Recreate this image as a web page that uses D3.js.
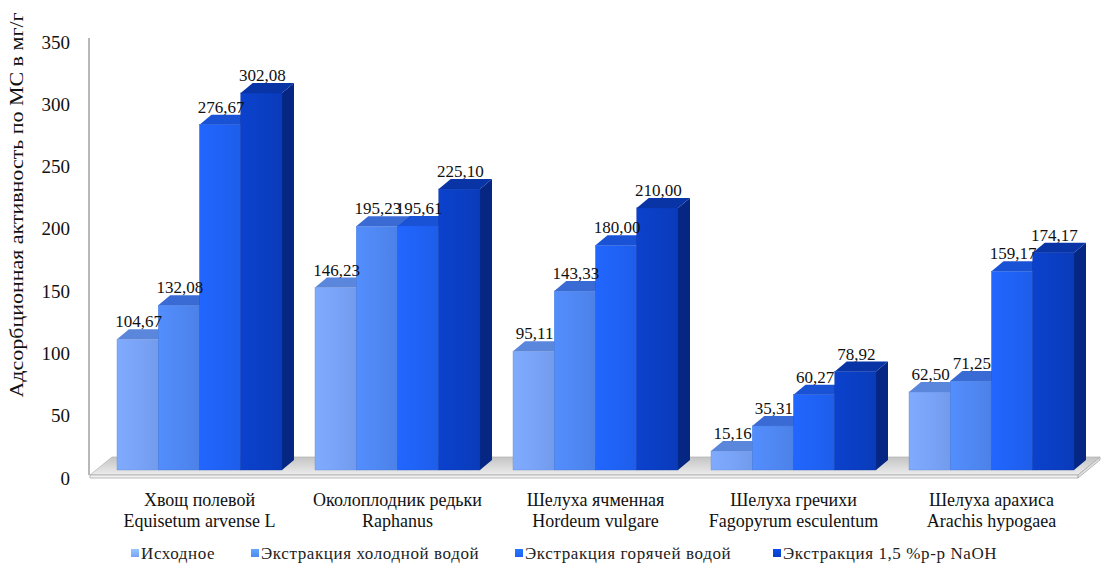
<!DOCTYPE html>
<html>
<head>
<meta charset="utf-8">
<script src="https://cdn.jsdelivr.net/npm/d3@7"></script>
<style>
  html, body { margin: 0; padding: 0; background: #fff; }
</style>
</head>
<body>
<svg id="chart" width="1101" height="570"></svg>
<script>
// Sorbent materials (two-line labels: Russian name / Latin name)
const categories = [
  ["Хвощ полевой", "Equisetum arvense L"],
  ["Околоплодник редьки", "Raphanus"],
  ["Шелуха ячменная", "Hordeum vulgare"],
  ["Шелуха гречихи", "Fagopyrum esculentum"],
  ["Шелуха арахиса", "Arachis hypogaea"]
];
const seriesNames = [
  "Исходное",
  "Экстракция холодной водой",
  "Экстракция горячей водой",
  "Экстракция 1,5 %р-р NaOH"
];
// Adsorption activity for methylene blue, mg/g
const initial   = [104.67, 146.23, 95.11, 15.16, 62.50];
const coldWater = [132.08, 195.23, 143.33, 35.31, 71.25];
const hotWater  = [276.67, 195.61, 180.00, 60.27, 159.17];
const naoh      = [302.08, 225.10, 210.00, 78.92, 174.17];
const yTicks = [0, 50, 100, 150, 200, 250, 300, 350];
const yTitle = "Адсорбционная активность по МС в мг/г";

const seriesValues = [initial, coldWater, hotWater, naoh];
const frontColors = ["#78a2f6", "#4f87f1", "#1f61f3", "#0a3ec2"];
const topColors   = ["#5a86dc", "#3a6ad4", "#1a52d6", "#0834a6"];
const sideColors  = ["#4a72c4", "#2f5bbd", "#1245bd", "#052783"];
const FONT = "'Liberation Serif', 'Times New Roman', Tinos, 'DejaVu Serif', serif";

const svg = d3.select("#chart").attr("font-family", FONT);
const defs = svg.append("defs");

// Geometry of the 3D plot
const depthX = 12, depthY = -10;
const x0 = d3.scaleBand()
  .domain(categories.map((c, i) => i))
  .range([100.5, 1090.5])
  .paddingInner(0.1667)
  .paddingOuter(0.0833);
const x1 = d3.scaleBand()
  .domain(seriesNames.map((s, i) => i))
  .range([0, x0.bandwidth()]);
const y = d3.scaleLinear().domain([0, 350]).range([470, 470 - 350 * 1.248]);
const yLabel = d3.scaleLinear().domain([0, 350]).range([478, 478 - 350 * 1.246]);

// Gradients for bar faces
frontColors.forEach((c, i) => {
  const g = defs.append("linearGradient").attr("id", "front" + i)
    .attr("x1", 0).attr("x2", 1).attr("y1", 0).attr("y2", 0);
  g.append("stop").attr("offset", "0%").attr("stop-color", d3.color(c).brighter(0.15));
  g.append("stop").attr("offset", "60%").attr("stop-color", c);
  g.append("stop").attr("offset", "100%").attr("stop-color", d3.color(c).darker(0.12));
  const lg = defs.append("linearGradient").attr("id", "leg" + i)
    .attr("x1", 0).attr("x2", 0).attr("y1", 0).attr("y2", 1);
  lg.append("stop").attr("offset", "0%").attr("stop-color", d3.color(c).brighter(0.6));
  lg.append("stop").attr("offset", "100%").attr("stop-color", c);
});
const floorGrad = defs.append("linearGradient").attr("id", "floorGrad")
  .attr("x1", 0).attr("x2", 0).attr("y1", 0).attr("y2", 1);
floorGrad.append("stop").attr("offset", "0%").attr("stop-color", "#c4c4c4");
floorGrad.append("stop").attr("offset", "100%").attr("stop-color", "#ececec");

// Floor slab
const floorFrontY = 475, floorBackY = 457;
const floorL = 90, floorR = 1078, floorShift = 22;
svg.append("path")
  .attr("d", `M${floorL},${floorFrontY} L${floorL + floorShift},${floorBackY} L${floorR + floorShift},${floorBackY} L${floorR},${floorFrontY} Z`)
  .attr("fill", "url(#floorGrad)")
  .attr("stroke", "#b8b8b8").attr("stroke-width", 0.8);
svg.append("path")
  .attr("d", `M${floorL},${floorFrontY} L${floorR},${floorFrontY} L${floorR},${floorFrontY + 3} L${floorL},${floorFrontY + 3} Z`)
  .attr("fill", "#f2f2f2").attr("stroke", "#a8a8a8").attr("stroke-width", 0.8);
svg.append("path")
  .attr("d", `M${floorR},${floorFrontY} L${floorR + floorShift},${floorBackY} L${floorR + floorShift},${floorBackY + 3} L${floorR},${floorFrontY + 3} Z`)
  .attr("fill", "#e0e0e0").attr("stroke", "#a8a8a8").attr("stroke-width", 0.8);

// Left wall edge
svg.append("line")
  .attr("x1", 89).attr("x2", 89).attr("y1", 38).attr("y2", floorFrontY)
  .attr("stroke", "#a0a0a0").attr("stroke-width", 1.5);

// Y tick labels
svg.append("g").selectAll("text").data(yTicks).join("text")
  .attr("x", 70).attr("y", d => yLabel(d))
  .attr("dy", "0.35em")
  .attr("text-anchor", "end")
  .attr("font-size", 19)
  .attr("fill", "#111")
  .text(d => d);

// Y axis title
svg.append("text")
  .attr("transform", "translate(23,205) rotate(-90)")
  .attr("text-anchor", "middle")
  .attr("font-size", 19)
  .attr("textLength", 385)
  .attr("lengthAdjust", "spacingAndGlyphs")
  .attr("fill", "#111")
  .text(yTitle);

// Bars
const groups = svg.append("g").selectAll("g").data(categories).join("g")
  .attr("transform", (d, i) => `translate(${x0(i)},0)`);

const bars = groups.selectAll("g.bar")
  .data((d, ci) => seriesValues.map((vals, si) => ({ si, ci, v: vals[ci] })))
  .join("g").attr("class", "bar");

const bw = x1.bandwidth();
bars.append("path") // side face
  .attr("d", d => {
    const xl = x1(d.si) + bw, yt = y(d.v), yb = y(0);
    return `M${xl},${yt} L${xl + depthX},${yt + depthY} L${xl + depthX},${yb + depthY} L${xl},${yb} Z`;
  })
  .attr("fill", d => sideColors[d.si]);
bars.append("path") // top face
  .attr("d", d => {
    const xl = x1(d.si), yt = y(d.v);
    return `M${xl},${yt} L${xl + depthX},${yt + depthY} L${xl + bw + depthX},${yt + depthY} L${xl + bw},${yt} Z`;
  })
  .attr("fill", d => topColors[d.si]);
bars.append("rect") // front face
  .attr("x", d => x1(d.si))
  .attr("y", d => y(d.v))
  .attr("width", bw)
  .attr("height", d => y(0) - y(d.v))
  .attr("fill", d => `url(#front${d.si})`)
  .attr("stroke", d => d3.color(frontColors[d.si]).darker(0.4))
  .attr("stroke-width", 0.4);

// Value labels
const fmt = v => d3.format(".2f")(v).replace(".", ",");
groups.selectAll("text.val")
  .data((d, ci) => seriesValues.map((vals, si) => ({ si, ci, v: vals[ci] })))
  .join("text").attr("class", "val")
  .attr("x", d => x1(d.si) + bw / 2 + 1)
  .attr("y", d => y(d.v) - 12)
  .attr("text-anchor", "middle")
  .attr("font-size", 17)
  .attr("fill", "#111")
  .text(d => fmt(d.v));

// Category labels
const catG = svg.append("g").selectAll("text").data(categories).join("text")
  .attr("x", (d, i) => x0(i) + x0.bandwidth() / 2)
  .attr("y", 506)
  .attr("text-anchor", "middle")
  .attr("font-size", 18)
  .attr("fill", "#111");
catG.append("tspan").attr("x", (d, i) => x0(i) + x0.bandwidth() / 2).text(d => d[0]);
catG.append("tspan").attr("x", (d, i) => x0(i) + x0.bandwidth() / 2).attr("dy", 21).text(d => d[1]);

// Legend
const legendX = [131, 251, 515, 773];
const leg = svg.append("g").selectAll("g").data(seriesNames).join("g")
  .attr("transform", (d, i) => `translate(${legendX[i]},553)`);
leg.append("rect").attr("x", 0).attr("y", -4).attr("width", 8).attr("height", 8)
  .attr("fill", (d, i) => `url(#leg${i})`);
leg.append("text").attr("x", 10).attr("dy", "0.35em")
  .attr("font-size", 17).attr("letter-spacing", 0.6)
  .attr("fill", "#222").text(d => d);
</script>
</body>
</html>
